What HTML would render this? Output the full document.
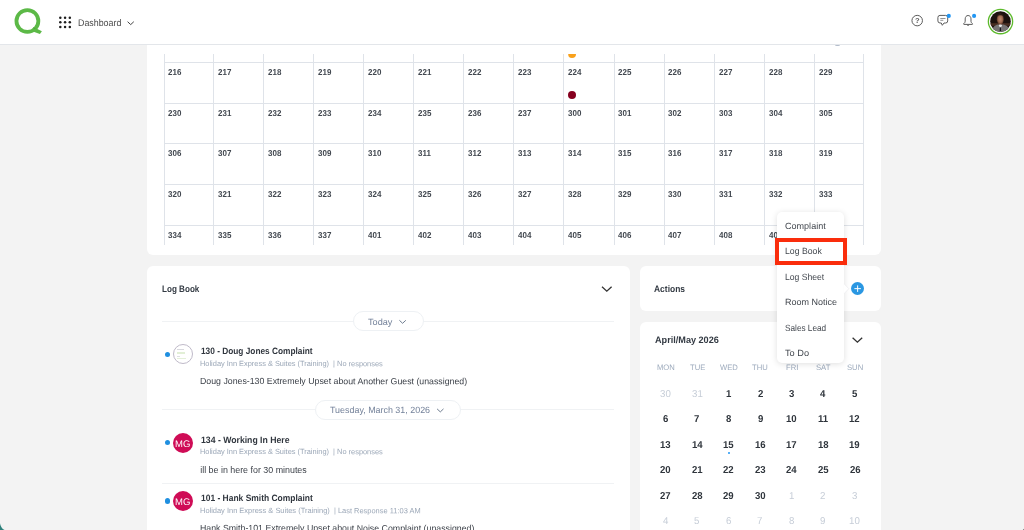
<!DOCTYPE html>
<html lang="en">
<head>
<meta charset="utf-8">
<title>Dashboard</title>
<style>
html,body{margin:0;padding:0}
body{width:1024px;height:530px;overflow:hidden;background:#f3f3f3;position:relative;font-family:"Liberation Sans",sans-serif;}
.abs,.t,.ln,.card{position:absolute}
.t{white-space:pre;transform-origin:0 50%;display:block}
.ln{background:#dfe3e9;display:block}
.card{background:#fff;border-radius:6px}
#hdr{position:absolute;left:0;top:0;width:1024px;height:44px;background:#fff;border-bottom:1px solid #e3e6ea;box-sizing:content-box}
.dot{position:absolute;border-radius:50%}
.pill{position:absolute;background:#fff;border:1px solid #eef1f4;border-radius:10px;box-sizing:border-box}
.hr{position:absolute;height:1px;background:#f0f2f4}
</style>
</head>
<body>
<div class="card" style="left:147px;top:38px;width:734px;height:217px"></div>
<div id="hdr"></div>
<!-- logo -->
<svg class="abs" style="left:12px;top:6px" width="32" height="30" viewBox="12 6 32 30">
  <circle cx="27.4" cy="21" r="10.95" fill="none" stroke="#5cb947" stroke-width="3.8"/>
  <path d="M33.4 27.1 L41.9 31.2 L39.9 33.9 L31.5 30.9 Z" fill="#5cb947"/>
  <path d="M33.2 27.4 L36.2 28.7 L34.2 29.1 Z" fill="#4a9a3a" opacity="0.7"/>
</svg>
<!-- app grid dots -->
<svg class="abs" style="left:58px;top:15px" width="15" height="15" viewBox="58 15 15 15" fill="#1d1d1d">
  <circle cx="60.3" cy="17.7" r="1.25"/><circle cx="65.05" cy="17.7" r="1.25"/><circle cx="69.8" cy="17.7" r="1.25"/>
  <circle cx="60.3" cy="22.35" r="1.25"/><circle cx="65.05" cy="22.35" r="1.25"/><circle cx="69.8" cy="22.35" r="1.25"/>
  <circle cx="60.3" cy="27" r="1.25"/><circle cx="65.05" cy="27" r="1.25"/><circle cx="69.8" cy="27" r="1.25"/>
</svg>
<svg class="abs" style="left:126px;top:19px" width="10" height="8" viewBox="126 19 10 8"><path d="M127.6 21.7 L130.7 24.6 L133.8 21.7" fill="none" stroke="#444" stroke-width="1"/></svg>
<!-- header right icons -->
<svg class="abs" style="left:905px;top:8px" width="119" height="30" viewBox="905 8 119 30">
  <circle cx="917.2" cy="20.6" r="5.25" fill="none" stroke="#5c5c5c" stroke-width="1"/>
  <text x="917.25" y="23.4" font-size="7.6" font-weight="bold" text-anchor="middle" fill="#5c5c5c" font-family="Liberation Sans, sans-serif">?</text>
  <path d="M940 15.400 h5.600 a2.100 2.100 0 0 1 2.100 2.100 v3.400 a2.100 2.100 0 0 1 -2.100 2.100 h-1.600 l-1.700 2.300 l-1 -2.300 h-1.300 a2.100 2.100 0 0 1 -2.100 -2.100 v-3.400 a2.100 2.100 0 0 1 2.100 -2.100 z" fill="none" stroke="#5c5c5c" stroke-width="1" stroke-linejoin="round"/>
  <path d="M940.300 18.500 h5.200 M940.300 20.300 h3" stroke="#777" stroke-width="0.8" fill="none"/>
  <circle cx="948.8" cy="15.9" r="2.050" fill="#2196f3"/>
  <path d="M968.1 15.500 c-1.700 0 -2.900 1.400 -2.900 3.400 v2.300 c0 1 -.5 1.700 -1.500 2.500 c-.3 .3 -.1 .7 .3 .7 h8.200 c.4 0 .6 -.4 .3 -.7 c-1 -.8 -1.500 -1.500 -1.500 -2.500 v-2.300 c0 -2 -1.200 -3.400 -2.900 -3.400 z" fill="none" stroke="#5c5c5c" stroke-width="1" stroke-linejoin="round"/>
  <path d="M967.100 24.800 a1.050 1.050 0 0 0 2 0" fill="none" stroke="#5c5c5c" stroke-width="0.9"/>
  <circle cx="974.1" cy="15.9" r="2.050" fill="#2196f3"/>
  <defs>
    <radialGradient id="face" cx="0.5" cy="0.5" r="0.5">
      <stop offset="0" stop-color="#c08c70"/><stop offset="0.6" stop-color="#a06c52"/><stop offset="1" stop-color="#5a3626"/>
    </radialGradient>
    <clipPath id="avc"><circle cx="1000.5" cy="21.6" r="10.3"/></clipPath>
  </defs>
  <circle cx="1000.5" cy="21.6" r="12.15" fill="#fff" stroke="#5dba2c" stroke-width="1.3"/>
  <g clip-path="url(#avc)">
    <rect x="988" y="9" width="26" height="26" fill="#1d120e"/>
    <rect x="988" y="23.2" width="26" height="2.6" fill="#4a2e22"/>
    <path d="M991.5 33 C992 27.5 995 25.200 998 24.600 L1003 24.600 C1006.5 25.200 1009.5 27.500 1010 33 Z" fill="#777474"/>
    <ellipse cx="1000.3" cy="19.2" rx="3.5" ry="5.6" fill="url(#face)"/>
    <path d="M996.900 16.500 C997 12.500 1003.500 12.500 1003.700 16.500 C1002.500 14.800 998.500 14.800 996.900 16.500 Z" fill="#2a1a14"/>
    <path d="M998.700 25.400 L1000.400 28.300 L1002.100 25.400 L1001.400 24.400 L999.400 24.400 Z" fill="#e6e6e6"/>
    <path d="M999.900 27.200 L1000.900 27.200 L1001.100 31 L999.700 31 Z" fill="#1a1a20"/>
  </g>
</svg>

<!-- top card (rooms) -->
<i class="abs" style="left:835.4px;top:44.6px;width:5px;height:1.3px;border-radius:50%;background:#b3bccb"></i>
<i class="ln" style="left:163.70px;top:54px;width:1px;height:190.5px"></i>
<i class="ln" style="left:212.90px;top:54px;width:1px;height:190.5px"></i>
<i class="ln" style="left:262.98px;top:54px;width:1px;height:190.5px"></i>
<i class="ln" style="left:313.06px;top:54px;width:1px;height:190.5px"></i>
<i class="ln" style="left:363.14px;top:54px;width:1px;height:190.5px"></i>
<i class="ln" style="left:413.22px;top:54px;width:1px;height:190.5px"></i>
<i class="ln" style="left:463.30px;top:54px;width:1px;height:190.5px"></i>
<i class="ln" style="left:513.38px;top:54px;width:1px;height:190.5px"></i>
<i class="ln" style="left:563.46px;top:54px;width:1px;height:190.5px"></i>
<i class="ln" style="left:613.54px;top:54px;width:1px;height:190.5px"></i>
<i class="ln" style="left:663.62px;top:54px;width:1px;height:190.5px"></i>
<i class="ln" style="left:713.70px;top:54px;width:1px;height:190.5px"></i>
<i class="ln" style="left:763.78px;top:54px;width:1px;height:190.5px"></i>
<i class="ln" style="left:813.86px;top:54px;width:1px;height:190.5px"></i>
<i class="ln" style="left:863.10px;top:54px;width:1px;height:190.5px"></i>
<i class="ln" style="left:163.7px;top:61.80px;width:700.4px;height:1px"></i>
<i class="ln" style="left:163.7px;top:102.55px;width:700.4px;height:1px"></i>
<i class="ln" style="left:163.7px;top:143.30px;width:700.4px;height:1px"></i>
<i class="ln" style="left:163.7px;top:184.05px;width:700.4px;height:1px"></i>
<i class="ln" style="left:163.7px;top:224.80px;width:700.4px;height:1px"></i>
<i class="dot" style="left:568.2px;top:50px;width:8px;height:8px;background:#f9a11b;clip-path:inset(4px 0 0 0)"></i>
<i class="dot" style="left:568.2px;top:90.8px;width:8px;height:8px;background:#86001f"></i>

<!-- log book card -->
<div class="card" style="left:147px;top:266px;width:482.5px;height:300px"></div>
<svg class="abs" style="left:599px;top:283px" width="16" height="12" viewBox="599 283 16 12"><path d="M602 286.7 L606.8 291.2 L611.6 286.700" fill="none" stroke="#333" stroke-width="1.3"/></svg>
<div class="hr" style="left:162px;top:321px;width:452px"></div>
<div class="pill" style="left:353px;top:311px;width:70.5px;height:20px"></div>
<svg class="abs" style="left:398px;top:318px" width="10" height="8" viewBox="398 318 10 8"><path d="M399.4 320.3 L402.6 323.3 L405.8 320.3" fill="none" stroke="#6f7d90" stroke-width="1"/></svg>
<div class="hr" style="left:162px;top:409.3px;width:452px"></div>
<div class="pill" style="left:315px;top:400px;width:146.3px;height:20px"></div>
<svg class="abs" style="left:436px;top:406px" width="10" height="8" viewBox="436 406 10 8"><path d="M437.1 408.900 L440.3 411.900 L443.5 408.900" fill="none" stroke="#6f7d90" stroke-width="1"/></svg>
<div class="hr" style="left:162px;top:483px;width:452px"></div>
<!-- avatars -->
<i class="dot" style="left:165px;top:351.5px;width:5.2px;height:5.2px;background:#1f8fe0"></i>
<i class="dot" style="left:172.700px;top:343.9px;width:20.5px;height:20.5px;background:#fff;border:1px solid #bfbac9;box-sizing:border-box"></i>
<i class="abs" style="left:177.2px;top:349px;width:6.5px;height:0.7px;background:#d8d8de"></i>
<i class="abs" style="left:177.2px;top:352.3px;width:8px;height:1.4px;background:#e2efd6"></i>
<i class="abs" style="left:177.2px;top:356.4px;width:2.5px;height:0.7px;background:#dedee3"></i>
<i class="abs" style="left:177.2px;top:357.5px;width:8.6px;height:1.2px;background:#e4f0d9"></i>
<i class="dot" style="left:164.9px;top:439.95px;width:5.2px;height:5.2px;background:#1f8fe0"></i>
<i class="dot" style="left:173px;top:432.7px;width:20px;height:20px;background:#cf0c56"></i>
<i class="dot" style="left:164.9px;top:498.35px;width:5.2px;height:5.2px;background:#1f8fe0"></i>
<i class="dot" style="left:173px;top:491.1px;width:20px;height:20px;background:#cf0c56"></i>

<!-- actions card -->
<div class="card" style="left:640px;top:266px;width:240.6px;height:45px"></div>
<i class="dot" style="left:851.1px;top:282.1px;width:13.1px;height:13.1px;background:#2a97e2"></i>
<svg class="abs" style="left:851px;top:282px" width="14" height="14" viewBox="851 282 14 14"><path d="M857.65 285.4 v6.5 M854.4 288.65 h6.5" stroke="#fff" stroke-width="1" fill="none"/></svg>

<!-- calendar card -->
<div class="card" style="left:640px;top:321.6px;width:240.6px;height:240px"></div>
<svg class="abs" style="left:849px;top:334px" width="16" height="12" viewBox="849 334 16 12"><path d="M852.6 337.7 L857.4 342.2 L862.2 337.7" fill="none" stroke="#333" stroke-width="1.3"/></svg>
<i class="dot" style="left:727.9px;top:451.7px;width:2px;height:2px;background:#2196f3"></i>

<span class="t" style="left:78.14px;top:17px;font-size:9.6px;line-height:12px;color:#4a4a4a;transform:rotate(0.05deg) scaleX(0.9239);">Dashboard</span>
<span class="t" style="left:167.50px;top:67px;font-size:8.6px;line-height:11px;color:#41474f;font-weight:bold;transform:rotate(0.05deg) scaleX(0.9300);">216</span>
<span class="t" style="left:217.70px;top:67px;font-size:8.6px;line-height:11px;color:#41474f;font-weight:bold;transform:rotate(0.05deg) scaleX(0.9300);">217</span>
<span class="t" style="left:267.78px;top:67px;font-size:8.6px;line-height:11px;color:#41474f;font-weight:bold;transform:rotate(0.05deg) scaleX(0.9300);">218</span>
<span class="t" style="left:317.86px;top:67px;font-size:8.6px;line-height:11px;color:#41474f;font-weight:bold;transform:rotate(0.05deg) scaleX(0.9300);">219</span>
<span class="t" style="left:367.94px;top:67px;font-size:8.6px;line-height:11px;color:#41474f;font-weight:bold;transform:rotate(0.05deg) scaleX(0.9300);">220</span>
<span class="t" style="left:418.02px;top:67px;font-size:8.6px;line-height:11px;color:#41474f;font-weight:bold;transform:rotate(0.05deg) scaleX(0.9300);">221</span>
<span class="t" style="left:468.10px;top:67px;font-size:8.6px;line-height:11px;color:#41474f;font-weight:bold;transform:rotate(0.05deg) scaleX(0.9300);">222</span>
<span class="t" style="left:518.18px;top:67px;font-size:8.6px;line-height:11px;color:#41474f;font-weight:bold;transform:rotate(0.05deg) scaleX(0.9300);">223</span>
<span class="t" style="left:568.26px;top:67px;font-size:8.6px;line-height:11px;color:#41474f;font-weight:bold;transform:rotate(0.05deg) scaleX(0.9300);">224</span>
<span class="t" style="left:618.34px;top:67px;font-size:8.6px;line-height:11px;color:#41474f;font-weight:bold;transform:rotate(0.05deg) scaleX(0.9300);">225</span>
<span class="t" style="left:668.42px;top:67px;font-size:8.6px;line-height:11px;color:#41474f;font-weight:bold;transform:rotate(0.05deg) scaleX(0.9300);">226</span>
<span class="t" style="left:718.50px;top:67px;font-size:8.6px;line-height:11px;color:#41474f;font-weight:bold;transform:rotate(0.05deg) scaleX(0.9300);">227</span>
<span class="t" style="left:768.58px;top:67px;font-size:8.6px;line-height:11px;color:#41474f;font-weight:bold;transform:rotate(0.05deg) scaleX(0.9300);">228</span>
<span class="t" style="left:818.66px;top:67px;font-size:8.6px;line-height:11px;color:#41474f;font-weight:bold;transform:rotate(0.05deg) scaleX(0.9300);">229</span>
<span class="t" style="left:167.50px;top:108px;font-size:8.6px;line-height:11px;color:#41474f;font-weight:bold;transform:rotate(0.05deg) scaleX(0.9300);">230</span>
<span class="t" style="left:217.70px;top:108px;font-size:8.6px;line-height:11px;color:#41474f;font-weight:bold;transform:rotate(0.05deg) scaleX(0.9300);">231</span>
<span class="t" style="left:267.78px;top:108px;font-size:8.6px;line-height:11px;color:#41474f;font-weight:bold;transform:rotate(0.05deg) scaleX(0.9300);">232</span>
<span class="t" style="left:317.86px;top:108px;font-size:8.6px;line-height:11px;color:#41474f;font-weight:bold;transform:rotate(0.05deg) scaleX(0.9300);">233</span>
<span class="t" style="left:367.94px;top:108px;font-size:8.6px;line-height:11px;color:#41474f;font-weight:bold;transform:rotate(0.05deg) scaleX(0.9300);">234</span>
<span class="t" style="left:418.02px;top:108px;font-size:8.6px;line-height:11px;color:#41474f;font-weight:bold;transform:rotate(0.05deg) scaleX(0.9300);">235</span>
<span class="t" style="left:468.10px;top:108px;font-size:8.6px;line-height:11px;color:#41474f;font-weight:bold;transform:rotate(0.05deg) scaleX(0.9300);">236</span>
<span class="t" style="left:518.18px;top:108px;font-size:8.6px;line-height:11px;color:#41474f;font-weight:bold;transform:rotate(0.05deg) scaleX(0.9300);">237</span>
<span class="t" style="left:568.26px;top:108px;font-size:8.6px;line-height:11px;color:#41474f;font-weight:bold;transform:rotate(0.05deg) scaleX(0.9300);">300</span>
<span class="t" style="left:618.34px;top:108px;font-size:8.6px;line-height:11px;color:#41474f;font-weight:bold;transform:rotate(0.05deg) scaleX(0.9300);">301</span>
<span class="t" style="left:668.42px;top:108px;font-size:8.6px;line-height:11px;color:#41474f;font-weight:bold;transform:rotate(0.05deg) scaleX(0.9300);">302</span>
<span class="t" style="left:718.50px;top:108px;font-size:8.6px;line-height:11px;color:#41474f;font-weight:bold;transform:rotate(0.05deg) scaleX(0.9300);">303</span>
<span class="t" style="left:768.58px;top:108px;font-size:8.6px;line-height:11px;color:#41474f;font-weight:bold;transform:rotate(0.05deg) scaleX(0.9300);">304</span>
<span class="t" style="left:818.66px;top:108px;font-size:8.6px;line-height:11px;color:#41474f;font-weight:bold;transform:rotate(0.05deg) scaleX(0.9300);">305</span>
<span class="t" style="left:167.50px;top:148px;font-size:8.6px;line-height:11px;color:#41474f;font-weight:bold;transform:rotate(0.05deg) scaleX(0.9300);">306</span>
<span class="t" style="left:217.70px;top:148px;font-size:8.6px;line-height:11px;color:#41474f;font-weight:bold;transform:rotate(0.05deg) scaleX(0.9300);">307</span>
<span class="t" style="left:267.78px;top:148px;font-size:8.6px;line-height:11px;color:#41474f;font-weight:bold;transform:rotate(0.05deg) scaleX(0.9300);">308</span>
<span class="t" style="left:317.86px;top:148px;font-size:8.6px;line-height:11px;color:#41474f;font-weight:bold;transform:rotate(0.05deg) scaleX(0.9300);">309</span>
<span class="t" style="left:367.94px;top:148px;font-size:8.6px;line-height:11px;color:#41474f;font-weight:bold;transform:rotate(0.05deg) scaleX(0.9300);">310</span>
<span class="t" style="left:418.02px;top:148px;font-size:8.6px;line-height:11px;color:#41474f;font-weight:bold;transform:rotate(0.05deg) scaleX(0.9300);">311</span>
<span class="t" style="left:468.10px;top:148px;font-size:8.6px;line-height:11px;color:#41474f;font-weight:bold;transform:rotate(0.05deg) scaleX(0.9300);">312</span>
<span class="t" style="left:518.18px;top:148px;font-size:8.6px;line-height:11px;color:#41474f;font-weight:bold;transform:rotate(0.05deg) scaleX(0.9300);">313</span>
<span class="t" style="left:568.26px;top:148px;font-size:8.6px;line-height:11px;color:#41474f;font-weight:bold;transform:rotate(0.05deg) scaleX(0.9300);">314</span>
<span class="t" style="left:618.34px;top:148px;font-size:8.6px;line-height:11px;color:#41474f;font-weight:bold;transform:rotate(0.05deg) scaleX(0.9300);">315</span>
<span class="t" style="left:668.42px;top:148px;font-size:8.6px;line-height:11px;color:#41474f;font-weight:bold;transform:rotate(0.05deg) scaleX(0.9300);">316</span>
<span class="t" style="left:718.50px;top:148px;font-size:8.6px;line-height:11px;color:#41474f;font-weight:bold;transform:rotate(0.05deg) scaleX(0.9300);">317</span>
<span class="t" style="left:768.58px;top:148px;font-size:8.6px;line-height:11px;color:#41474f;font-weight:bold;transform:rotate(0.05deg) scaleX(0.9300);">318</span>
<span class="t" style="left:818.66px;top:148px;font-size:8.6px;line-height:11px;color:#41474f;font-weight:bold;transform:rotate(0.05deg) scaleX(0.9300);">319</span>
<span class="t" style="left:167.50px;top:189px;font-size:8.6px;line-height:11px;color:#41474f;font-weight:bold;transform:rotate(0.05deg) scaleX(0.9300);">320</span>
<span class="t" style="left:217.70px;top:189px;font-size:8.6px;line-height:11px;color:#41474f;font-weight:bold;transform:rotate(0.05deg) scaleX(0.9300);">321</span>
<span class="t" style="left:267.78px;top:189px;font-size:8.6px;line-height:11px;color:#41474f;font-weight:bold;transform:rotate(0.05deg) scaleX(0.9300);">322</span>
<span class="t" style="left:317.86px;top:189px;font-size:8.6px;line-height:11px;color:#41474f;font-weight:bold;transform:rotate(0.05deg) scaleX(0.9300);">323</span>
<span class="t" style="left:367.94px;top:189px;font-size:8.6px;line-height:11px;color:#41474f;font-weight:bold;transform:rotate(0.05deg) scaleX(0.9300);">324</span>
<span class="t" style="left:418.02px;top:189px;font-size:8.6px;line-height:11px;color:#41474f;font-weight:bold;transform:rotate(0.05deg) scaleX(0.9300);">325</span>
<span class="t" style="left:468.10px;top:189px;font-size:8.6px;line-height:11px;color:#41474f;font-weight:bold;transform:rotate(0.05deg) scaleX(0.9300);">326</span>
<span class="t" style="left:518.18px;top:189px;font-size:8.6px;line-height:11px;color:#41474f;font-weight:bold;transform:rotate(0.05deg) scaleX(0.9300);">327</span>
<span class="t" style="left:568.26px;top:189px;font-size:8.6px;line-height:11px;color:#41474f;font-weight:bold;transform:rotate(0.05deg) scaleX(0.9300);">328</span>
<span class="t" style="left:618.34px;top:189px;font-size:8.6px;line-height:11px;color:#41474f;font-weight:bold;transform:rotate(0.05deg) scaleX(0.9300);">329</span>
<span class="t" style="left:668.42px;top:189px;font-size:8.6px;line-height:11px;color:#41474f;font-weight:bold;transform:rotate(0.05deg) scaleX(0.9300);">330</span>
<span class="t" style="left:718.50px;top:189px;font-size:8.6px;line-height:11px;color:#41474f;font-weight:bold;transform:rotate(0.05deg) scaleX(0.9300);">331</span>
<span class="t" style="left:768.58px;top:189px;font-size:8.6px;line-height:11px;color:#41474f;font-weight:bold;transform:rotate(0.05deg) scaleX(0.9300);">332</span>
<span class="t" style="left:818.66px;top:189px;font-size:8.6px;line-height:11px;color:#41474f;font-weight:bold;transform:rotate(0.05deg) scaleX(0.9300);">333</span>
<span class="t" style="left:167.50px;top:230px;font-size:8.6px;line-height:11px;color:#41474f;font-weight:bold;transform:rotate(0.05deg) scaleX(0.9300);">334</span>
<span class="t" style="left:217.70px;top:230px;font-size:8.6px;line-height:11px;color:#41474f;font-weight:bold;transform:rotate(0.05deg) scaleX(0.9300);">335</span>
<span class="t" style="left:267.78px;top:230px;font-size:8.6px;line-height:11px;color:#41474f;font-weight:bold;transform:rotate(0.05deg) scaleX(0.9300);">336</span>
<span class="t" style="left:317.86px;top:230px;font-size:8.6px;line-height:11px;color:#41474f;font-weight:bold;transform:rotate(0.05deg) scaleX(0.9300);">337</span>
<span class="t" style="left:367.94px;top:230px;font-size:8.6px;line-height:11px;color:#41474f;font-weight:bold;transform:rotate(0.05deg) scaleX(0.9300);">401</span>
<span class="t" style="left:418.02px;top:230px;font-size:8.6px;line-height:11px;color:#41474f;font-weight:bold;transform:rotate(0.05deg) scaleX(0.9300);">402</span>
<span class="t" style="left:468.10px;top:230px;font-size:8.6px;line-height:11px;color:#41474f;font-weight:bold;transform:rotate(0.05deg) scaleX(0.9300);">403</span>
<span class="t" style="left:518.18px;top:230px;font-size:8.6px;line-height:11px;color:#41474f;font-weight:bold;transform:rotate(0.05deg) scaleX(0.9300);">404</span>
<span class="t" style="left:568.26px;top:230px;font-size:8.6px;line-height:11px;color:#41474f;font-weight:bold;transform:rotate(0.05deg) scaleX(0.9300);">405</span>
<span class="t" style="left:618.34px;top:230px;font-size:8.6px;line-height:11px;color:#41474f;font-weight:bold;transform:rotate(0.05deg) scaleX(0.9300);">406</span>
<span class="t" style="left:668.42px;top:230px;font-size:8.6px;line-height:11px;color:#41474f;font-weight:bold;transform:rotate(0.05deg) scaleX(0.9300);">407</span>
<span class="t" style="left:718.50px;top:230px;font-size:8.6px;line-height:11px;color:#41474f;font-weight:bold;transform:rotate(0.05deg) scaleX(0.9300);">408</span>
<span class="t" style="left:768.58px;top:230px;font-size:8.6px;line-height:11px;color:#41474f;font-weight:bold;transform:rotate(0.05deg) scaleX(0.9300);">409</span>
<span class="t" style="left:818.66px;top:230px;font-size:8.6px;line-height:11px;color:#41474f;font-weight:bold;transform:rotate(0.05deg) scaleX(0.9300);">410</span>
<span class="t" style="left:161.86px;top:283px;font-size:9.4px;line-height:12px;color:#333a43;font-weight:bold;transform:rotate(0.05deg) scaleX(0.8640);">Log Book</span>
<span class="t" style="left:368.31px;top:316px;font-size:9px;line-height:12px;color:#74829a;transform:rotate(0.05deg) scaleX(1.0169);">Today</span>
<span class="t" style="left:330.07px;top:404px;font-size:9px;line-height:12px;color:#74829a;transform:rotate(0.05deg) scaleX(0.9900);">Tuesday, March 31, 2026</span>
<span class="t" style="left:201.40px;top:345px;font-size:9.2px;line-height:12px;color:#30363e;font-weight:bold;transform:rotate(0.05deg) scaleX(0.9036);">130 - Doug Jones Complaint</span>
<span class="t" style="left:200.10px;top:359px;font-size:7.5px;line-height:10px;color:#9ba7b7;transform:rotate(0.05deg) scaleX(0.9875);">Holiday Inn Express &amp; Suites (Training)  | No responses</span>
<span class="t" style="left:200.28px;top:375px;font-size:8.9px;line-height:12px;color:#3a3f47;transform:rotate(0.05deg) scaleX(0.9880);">Doug Jones-130 Extremely Upset about Another Guest (unassigned)</span>
<span class="t" style="left:201.32px;top:434px;font-size:9.2px;line-height:12px;color:#30363e;font-weight:bold;transform:rotate(0.05deg) scaleX(0.9440);">134 - Working In Here</span>
<span class="t" style="left:200.10px;top:447px;font-size:7.5px;line-height:10px;color:#9ba7b7;transform:rotate(0.05deg) scaleX(0.9875);">Holiday Inn Express &amp; Suites (Training)  | No responses</span>
<span class="t" style="left:200.20px;top:464px;font-size:8.9px;line-height:12px;color:#3a3f47;">ill be in here for 30 minutes</span>
<span class="t" style="left:201.35px;top:492px;font-size:9.2px;line-height:12px;color:#30363e;font-weight:bold;transform:rotate(0.05deg) scaleX(0.9200);">101 - Hank Smith Complaint</span>
<span class="t" style="left:200.09px;top:506px;font-size:7.5px;line-height:10px;color:#9ba7b7;transform:rotate(0.05deg) scaleX(0.9936);">Holiday Inn Express &amp; Suites (Training)  | Last Response 11:03 AM</span>
<span class="t" style="left:200.29px;top:522px;font-size:8.9px;line-height:12px;color:#3a3f47;transform:rotate(0.05deg) scaleX(0.9896);">Hank Smith-101 Extremely Upset about Noise Complaint (unassigned)</span>
<span class="t" style="left:174.90px;top:438px;font-size:9.6px;line-height:12px;color:#fff;transform:rotate(0.05deg) scaleX(0.9910);">MG</span>
<span class="t" style="left:174.90px;top:496px;font-size:9.6px;line-height:12px;color:#fff;transform:rotate(0.05deg) scaleX(0.9910);">MG</span>
<span class="t" style="left:654.23px;top:283px;font-size:9.4px;line-height:12px;color:#333a43;font-weight:bold;transform:rotate(0.05deg) scaleX(0.9023);">Actions</span>
<span class="t" style="left:654.86px;top:334px;font-size:9.4px;line-height:12px;color:#333a43;font-weight:bold;transform:rotate(0.05deg) scaleX(0.9722);">April/May 2026</span>
<span class="t" style="left:656.50px;top:363px;font-size:7.9px;line-height:10px;color:#9eabbd;transform:rotate(0.05deg) scaleX(0.9700);">MON</span>
<span class="t" style="left:689.67px;top:363px;font-size:7.9px;line-height:10px;color:#9eabbd;transform:rotate(0.05deg) scaleX(0.9700);">TUE</span>
<span class="t" style="left:720.15px;top:363px;font-size:7.9px;line-height:10px;color:#9eabbd;transform:rotate(0.05deg) scaleX(0.9700);">WED</span>
<span class="t" style="left:752.24px;top:363px;font-size:7.9px;line-height:10px;color:#9eabbd;transform:rotate(0.05deg) scaleX(0.9700);">THU</span>
<span class="t" style="left:785.76px;top:363px;font-size:7.9px;line-height:10px;color:#9eabbd;transform:rotate(0.05deg) scaleX(0.9700);">FRI</span>
<span class="t" style="left:815.64px;top:363px;font-size:7.9px;line-height:10px;color:#9eabbd;transform:rotate(0.05deg) scaleX(0.9700);">SAT</span>
<span class="t" style="left:846.51px;top:363px;font-size:7.9px;line-height:10px;color:#9eabbd;transform:rotate(0.05deg) scaleX(0.9700);">SUN</span>
<span class="t" style="left:660.42px;top:387px;font-size:10px;line-height:13px;color:#c6cdd7;transform:rotate(0.05deg) scaleX(0.9700);">30</span>
<span class="t" style="left:691.58px;top:387px;font-size:10px;line-height:13px;color:#c6cdd7;transform:rotate(0.05deg) scaleX(0.9700);">31</span>
<span class="t" style="left:725.62px;top:387px;font-size:10px;line-height:13px;color:#2f353c;font-weight:bold;transform:rotate(0.05deg) scaleX(0.9600);">1</span>
<span class="t" style="left:757.77px;top:387px;font-size:10px;line-height:13px;color:#2f353c;font-weight:bold;transform:rotate(0.05deg) scaleX(0.9600);">2</span>
<span class="t" style="left:789.22px;top:387px;font-size:10px;line-height:13px;color:#2f353c;font-weight:bold;transform:rotate(0.05deg) scaleX(0.9600);">3</span>
<span class="t" style="left:820.03px;top:387px;font-size:10px;line-height:13px;color:#2f353c;font-weight:bold;transform:rotate(0.05deg) scaleX(0.9600);">4</span>
<span class="t" style="left:852.27px;top:387px;font-size:10px;line-height:13px;color:#2f353c;font-weight:bold;transform:rotate(0.05deg) scaleX(0.9600);">5</span>
<span class="t" style="left:662.72px;top:412px;font-size:10px;line-height:13px;color:#2f353c;font-weight:bold;transform:rotate(0.05deg) scaleX(0.9600);">6</span>
<span class="t" style="left:694.22px;top:412px;font-size:10px;line-height:13px;color:#2f353c;font-weight:bold;transform:rotate(0.05deg) scaleX(0.9600);">7</span>
<span class="t" style="left:726.17px;top:412px;font-size:10px;line-height:13px;color:#2f353c;font-weight:bold;transform:rotate(0.05deg) scaleX(0.9600);">8</span>
<span class="t" style="left:757.69px;top:412px;font-size:10px;line-height:13px;color:#2f353c;font-weight:bold;transform:rotate(0.05deg) scaleX(0.9600);">9</span>
<span class="t" style="left:786.28px;top:412px;font-size:10px;line-height:13px;color:#2f353c;font-weight:bold;transform:rotate(0.05deg) scaleX(0.9600);">10</span>
<span class="t" style="left:817.63px;top:412px;font-size:10px;line-height:13px;color:#2f353c;font-weight:bold;transform:rotate(0.05deg) scaleX(0.9600);">11</span>
<span class="t" style="left:849.05px;top:412px;font-size:10px;line-height:13px;color:#2f353c;font-weight:bold;transform:rotate(0.05deg) scaleX(0.9600);">12</span>
<span class="t" style="left:660.21px;top:438px;font-size:10px;line-height:13px;color:#2f353c;font-weight:bold;transform:rotate(0.05deg) scaleX(0.9600);">13</span>
<span class="t" style="left:691.75px;top:438px;font-size:10px;line-height:13px;color:#2f353c;font-weight:bold;transform:rotate(0.05deg) scaleX(0.9600);">14</span>
<span class="t" style="left:723.43px;top:438px;font-size:10px;line-height:13px;color:#2f353c;font-weight:bold;transform:rotate(0.05deg) scaleX(0.9600);">15</span>
<span class="t" style="left:755.09px;top:438px;font-size:10px;line-height:13px;color:#2f353c;font-weight:bold;transform:rotate(0.05deg) scaleX(0.9600);">16</span>
<span class="t" style="left:786.37px;top:438px;font-size:10px;line-height:13px;color:#2f353c;font-weight:bold;transform:rotate(0.05deg) scaleX(0.9600);">17</span>
<span class="t" style="left:817.61px;top:438px;font-size:10px;line-height:13px;color:#2f353c;font-weight:bold;transform:rotate(0.05deg) scaleX(0.9600);">18</span>
<span class="t" style="left:849.07px;top:438px;font-size:10px;line-height:13px;color:#2f353c;font-weight:bold;transform:rotate(0.05deg) scaleX(0.9600);">19</span>
<span class="t" style="left:660.30px;top:463px;font-size:10px;line-height:13px;color:#2f353c;font-weight:bold;transform:rotate(0.05deg) scaleX(0.9600);">20</span>
<span class="t" style="left:691.85px;top:463px;font-size:10px;line-height:13px;color:#2f353c;font-weight:bold;transform:rotate(0.05deg) scaleX(0.9600);">21</span>
<span class="t" style="left:723.07px;top:463px;font-size:10px;line-height:13px;color:#2f353c;font-weight:bold;transform:rotate(0.05deg) scaleX(0.9600);">22</span>
<span class="t" style="left:754.73px;top:463px;font-size:10px;line-height:13px;color:#2f353c;font-weight:bold;transform:rotate(0.05deg) scaleX(0.9600);">23</span>
<span class="t" style="left:785.94px;top:463px;font-size:10px;line-height:13px;color:#2f353c;font-weight:bold;transform:rotate(0.05deg) scaleX(0.9600);">24</span>
<span class="t" style="left:817.95px;top:463px;font-size:10px;line-height:13px;color:#2f353c;font-weight:bold;transform:rotate(0.05deg) scaleX(0.9600);">25</span>
<span class="t" style="left:849.61px;top:463px;font-size:10px;line-height:13px;color:#2f353c;font-weight:bold;transform:rotate(0.05deg) scaleX(0.9600);">26</span>
<span class="t" style="left:660.39px;top:489px;font-size:10px;line-height:13px;color:#2f353c;font-weight:bold;transform:rotate(0.05deg) scaleX(0.9600);">27</span>
<span class="t" style="left:692.13px;top:489px;font-size:10px;line-height:13px;color:#2f353c;font-weight:bold;transform:rotate(0.05deg) scaleX(0.9600);">28</span>
<span class="t" style="left:723.09px;top:489px;font-size:10px;line-height:13px;color:#2f353c;font-weight:bold;transform:rotate(0.05deg) scaleX(0.9600);">29</span>
<span class="t" style="left:754.74px;top:489px;font-size:10px;line-height:13px;color:#2f353c;font-weight:bold;transform:rotate(0.05deg) scaleX(0.9600);">30</span>
<span class="t" style="left:788.84px;top:489px;font-size:10px;line-height:13px;color:#c6cdd7;transform:rotate(0.05deg) scaleX(0.9700);">1</span>
<span class="t" style="left:820.28px;top:489px;font-size:10px;line-height:13px;color:#c6cdd7;transform:rotate(0.05deg) scaleX(0.9700);">2</span>
<span class="t" style="left:852.44px;top:489px;font-size:10px;line-height:13px;color:#c6cdd7;transform:rotate(0.05deg) scaleX(0.9700);">3</span>
<span class="t" style="left:663.31px;top:514px;font-size:10px;line-height:13px;color:#c6cdd7;transform:rotate(0.05deg) scaleX(0.9700);">4</span>
<span class="t" style="left:694.43px;top:514px;font-size:10px;line-height:13px;color:#c6cdd7;transform:rotate(0.05deg) scaleX(0.9700);">5</span>
<span class="t" style="left:726.05px;top:514px;font-size:10px;line-height:13px;color:#c6cdd7;transform:rotate(0.05deg) scaleX(0.9700);">6</span>
<span class="t" style="left:757.49px;top:514px;font-size:10px;line-height:13px;color:#c6cdd7;transform:rotate(0.05deg) scaleX(0.9700);">7</span>
<span class="t" style="left:789.10px;top:514px;font-size:10px;line-height:13px;color:#c6cdd7;transform:rotate(0.05deg) scaleX(0.9700);">8</span>
<span class="t" style="left:820.03px;top:514px;font-size:10px;line-height:13px;color:#c6cdd7;transform:rotate(0.05deg) scaleX(0.9700);">9</span>
<span class="t" style="left:849.04px;top:514px;font-size:10px;line-height:13px;color:#c6cdd7;transform:rotate(0.05deg) scaleX(0.9700);">10</span>

<!-- dropdown -->
<div class="abs" style="left:777.2px;top:212.2px;width:66.800px;height:150.800px;background:#fff;border-radius:5px;box-shadow:0 1px 6px rgba(0,0,0,.13)"></div>
<svg class="abs" style="left:840px;top:280px" width="12" height="18" viewBox="840 280 12 18"><path d="M843.5 283.2 L848.8 288.7 L843.5 294.2 Z" fill="#fff" stroke="#e9eaec" stroke-width="0.6"/><rect x="842" y="282" width="1.9" height="14" fill="#fff"/></svg>
<div class="abs" style="left:775.1px;top:237.9px;width:71.800px;height:27.3px;background:#fa2d0c"></div>
<div class="abs" style="left:778.7px;top:241.6px;width:64.7px;height:19.9px;background:#fff"></div>
<span class="t" style="left:784.50px;top:220px;font-size:9px;line-height:12px;color:#42474e;transform:rotate(0.05deg) scaleX(1.0050);">Complaint</span>
<span class="t" style="left:784.70px;top:245px;font-size:9px;line-height:12px;color:#42474e;transform:rotate(0.05deg) scaleX(0.9681);">Log Book</span>
<span class="t" style="left:784.74px;top:271px;font-size:9px;line-height:12px;color:#42474e;transform:rotate(0.05deg) scaleX(0.9568);">Log Sheet</span>
<span class="t" style="left:784.60px;top:296px;font-size:9px;line-height:12px;color:#42474e;transform:rotate(0.05deg);">Room Notice</span>
<span class="t" style="left:784.75px;top:322px;font-size:9px;line-height:12px;color:#42474e;transform:rotate(0.05deg) scaleX(0.9140);">Sales Lead</span>
<span class="t" style="left:785.06px;top:347px;font-size:9px;line-height:12px;color:#42474e;transform:rotate(0.05deg) scaleX(1.0221);">To Do</span>
<svg class="abs" style="left:0;top:520px" width="8" height="10" viewBox="0 520 8 10"><path d="M0 523.2 Q0.6 528 4.600 530 L0 530 Z" fill="#2d807b"/></svg>
<svg class="abs" style="left:1020px;top:526px" width="4" height="4" viewBox="1020 526 4 4"><path d="M1024 528.800 L1024 530 L1022.800 530 Z" fill="#666"/></svg>
</body>
</html>
